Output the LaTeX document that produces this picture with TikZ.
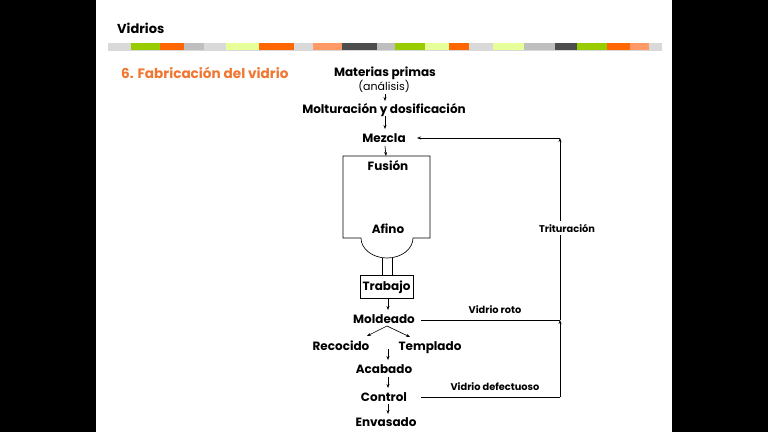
\documentclass[tikz,border=0pt]{standalone}
\usepackage{fontspec}
\setmainfont{Poppins}
\usetikzlibrary{arrows.meta}
\definecolor{ttlorange}{RGB}{240,118,50}
\definecolor{sLG}{RGB}{217,217,217}
\definecolor{sGN}{RGB}{153,204,0}
\definecolor{sOR}{RGB}{255,102,0}
\definecolor{sGR}{RGB}{191,191,191}
\definecolor{sYL}{RGB}{230,255,153}
\definecolor{sSA}{RGB}{255,153,102}
\definecolor{sDG}{RGB}{77,77,77}
\begin{document}
\begin{tikzpicture}[x=1pt,y=-1pt,
  proc/.style={font=\fontsize{12}{14}\selectfont\bfseries, inner sep=1pt, text height=12.5pt, text depth=2.5pt},
  plain/.style={font=\fontsize{11}{13}\selectfont, inner sep=1pt, text height=11.5pt, text depth=2.5pt},
  side/.style={font=\fontsize{9.8}{11}\selectfont\bfseries, inner sep=1pt, text height=10pt, text depth=2pt},
  arr/.style={-{Stealth[length=4pt,width=3pt]}, line width=0.65pt},
  ln/.style={line width=0.65pt}]
\useasboundingbox (0,0) rectangle (768,432);
\fill[black] (0,0) rectangle (768,432);
\fill[white] (96,0) rectangle (672,432);
% header
\node[anchor=west, font=\fontsize{13}{15}\selectfont\bfseries, inner sep=0] (ttl) at (117,28) {Vidrios};
\fill[sGR!60] (108,49.5) rectangle (662,51);
\foreach \a/\b/\c in {108/131/sLG,131/160/sGN,160/184/sOR,184/204/sGR,204/226/sLG,226/259/sYL,259/294/sOR,294/313/sLG,313/342/sSA,342/377/sDG,377/395/sGR,395/425/sGN,425/449/sYL,449/469/sOR,469/493/sLG,493/524/sYL,524/555/sGR,555/577/sDG,577/607/sGN,607/630/sOR,630/649/sSA,649/662/sLG}
  \fill[\c] (\a,42.5) rectangle (\b,49.5);
\node[anchor=west, font=\fontsize{13.6}{16}\selectfont\bfseries, text=ttlorange, inner sep=0] (sub) at (121,73) {6. Fabricación del vidrio};
% main chain
\node[proc] (mp) at (385,71) {Materias primas};
\node[plain] (an) at (384,86) {(análisis)};
\node[proc] (mo) at (384,108) {Molturación y dosificación};
\node[proc] (mz) at (384,137) {Mezcla};
% furnace
\coordinate (ftop) at (386,156);
\draw[ln] (343,156) -- (343,238) -- (361,238) arc[start angle=180, end angle=360, x radius=26pt, y radius=20pt] -- (430,238) -- (430,156) -- cycle;
\node[proc] (fu) at (388,165) {Fusión};
\node[proc] (af) at (388,228) {Afino};
\draw[ln] (382,257.5) -- (382,275) (392,257.5) -- (392,275);
\node[proc, draw, line width=0.65pt, minimum width=53pt, minimum height=23pt, inner sep=0, text height=10.5pt] (tr) at (386.5,286.5) {Trabajo};
\node[proc] (ml) at (384,318) {Moldeado};
\node[proc] (rc) at (341,345) {Recocido};
\node[proc] (tp) at (430,345) {Templado};
\node[proc] (ac) at (384,368) {Acabado};
\node[proc] (ct) at (384,396) {Control};
\node[proc] (en) at (386,421) {Envasado};
\draw[arr] (385,94) -- (385,101);
\draw[arr] (385,116) -- (385,129);
\draw[arr] (385,146) -- (ftop);
\draw[arr] (388,298) -- (388,310);
\coordinate (br) at (387,326);
\draw[arr] (br) -- (367,336);
\draw[arr] (br) -- (410,337);
\draw[arr] (388,349) -- (388,360);
\draw[arr] (388,377) -- (388,388);
\draw[arr] (388,404) -- (388,414);
% recycling loop
\coordinate (rm) at (560,320);
\coordinate (rc2) at (560,397);
\coordinate (rt) at (560,138);
\draw[ln] (421,320) -- (rm);
\draw[ln] (421,397) -- (rc2);
\draw[arr] (rc2) -- (rm);
\draw[arr] (rm) -- (rt);
\draw[arr] (rt) -- (417,138);
\node[side, fill=white] (trit) at (567,228) {Trituración};
\node[side] (vr) at (495,309) {Vidrio roto};
\node[side] (vd) at (495,386) {Vidrio defectuoso};
\end{tikzpicture}
\end{document}
